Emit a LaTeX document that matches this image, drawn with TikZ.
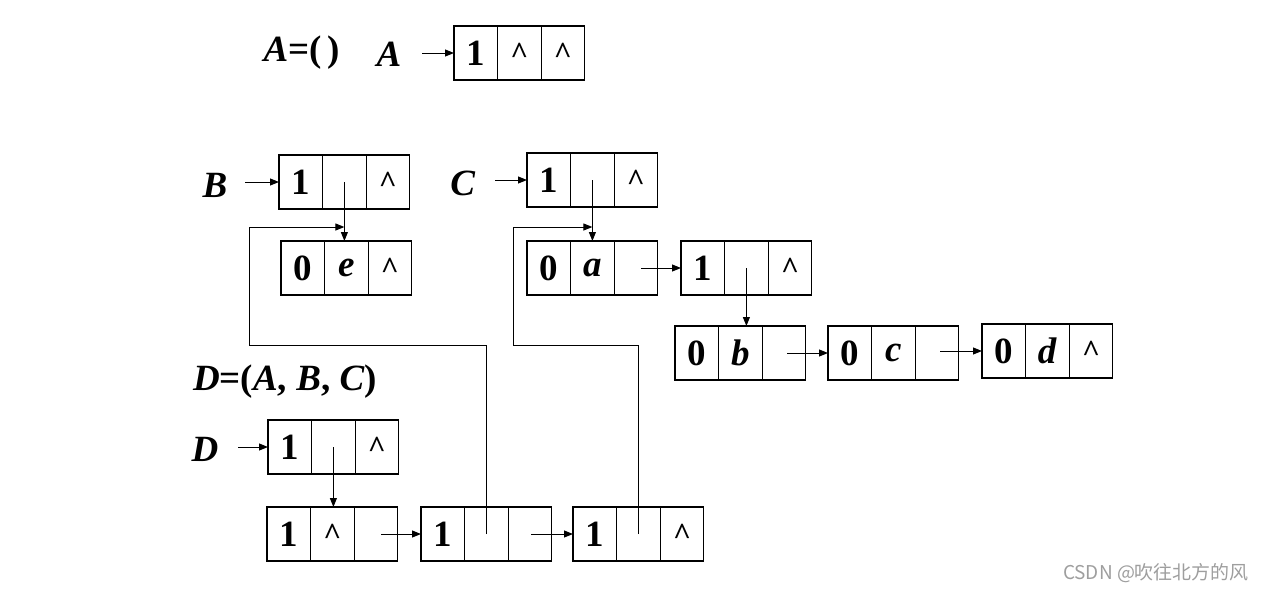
\documentclass[tikz,border=0pt]{standalone}
\usepackage{fontspec}
\setmainfont{Liberation Serif}
\newfontfamily\cjk{Noto Sans CJK SC}
\usetikzlibrary{arrows.meta}
\tikzset{
  cell/.style={draw, line width=1.3pt, minimum width=43.6pt, minimum height=54pt,
    inner sep=0pt, outer sep=0pt, font=\fontsize{37}{39}\selectfont\bfseries},
  lbl/.style={inner sep=0pt, font=\fontsize{37}{39}\selectfont\bfseries},
  ptr/.style={line width=1pt, -{Triangle[length=9pt,width=7pt]}},
  wire/.style={line width=1pt}
}
\newcommand{\car}{{\fontsize{31}{33}\selectfont\raisebox{-0.02em}{\textasciicircum}}}
\newcommand{\gnode}[6]{%
  \node[cell] (#1-1) at ({#2+21.8},{#3+27}) {#4};
  \node[cell] (#1-2) at ({#2+65.4},{#3+27}) {#5};
  \node[cell] (#1-3) at ({#2+109},{#3+27}) {#6};}
\begin{document}
\begin{tikzpicture}[x=1pt,y=-1pt]
\useasboundingbox (0,0) rectangle (1267,592);
% lists
\gnode{A}{454}{26}{1}{\car}{\car}
\gnode{B}{279}{155}{1}{}{\car}
\gnode{E}{281}{241}{0}{\textit{e}}{\car}
\gnode{C}{527}{153}{1}{}{\car}
\gnode{Ca}{527}{241}{0}{\textit{a}}{}
\gnode{Ct}{681}{241}{1}{}{\car}
\gnode{Cb}{675}{326}{0}{\textit{b}}{}
\gnode{Cc}{828}{326}{0}{\textit{c}}{}
\gnode{Cd}{982}{324}{0}{\textit{d}}{\car}
\gnode{D}{268}{420}{1}{}{\car}
\gnode{Da}{267}{507}{1}{\car}{}
\gnode{Db}{421}{507}{1}{}{}
\gnode{Dc}{573}{507}{1}{}{\car}
% labels
\node[lbl] (tA) at (302,53) {\textit{A}=(\,)};
\node[lbl] (lA) at (389,54) {\textit{A}};
\node[lbl] (lB) at (215,185) {\textit{B}};
\node[lbl] (lC) at (463,183) {\textit{C}};
\node[lbl] (tD) at (285,382) {\textit{D}=(\textit{A}, \textit{B}, \textit{C})};
\node[lbl] (lD) at (205,449) {\textit{D}};
% label arrows
\coordinate (sA) at (422,53);
\coordinate (sB) at (245,182);
\coordinate (sC) at (495,180);
\coordinate (sD) at (238,447);
\draw[ptr] (sA) -- (A-1.west);
\draw[ptr] (sB) -- (B-1.west);
\draw[ptr] (sC) -- (C-1.west);
\draw[ptr] (sD) -- (D-1.west);
% sublist pointers
\draw[ptr] (B-2.center) -- (B-2.center |- E-2.north);
\draw[ptr] (C-2.center) -- (C-2.center |- Ca-2.north);
\draw[ptr] (Ct-2.center) -- (Ct-2.center |- Cb-2.north);
\draw[ptr] (D-2.center) -- (D-2.center |- Da-2.north);
% next pointers
\draw[ptr] ([xshift=5pt]Ca-3.center) -- (Ct-1.west);
\draw[ptr] ([xshift=3pt]Cb-3.center) -- (Cc-1.west);
\draw[ptr] ([xshift=3pt]Cc-3.center |- Cd-1.west) -- (Cd-1.west);
\draw[ptr] ([xshift=5pt]Da-3.center) -- (Db-1.west);
\draw[ptr] ([xshift=1pt]Db-3.center) -- (Dc-1.west);
% shared sublist pointers
\coordinate (p1) at (249,345);
\coordinate (p2) at (249,227);
\coordinate (q1) at (513,345);
\coordinate (q2) at (513,227);
\draw[wire] (Db-2.center) |- (p1) -- (p2);
\draw[ptr] (p2) -- (p2 -| B-2.center);
\draw[wire] (Dc-2.center) |- (q1) -- (q2);
\draw[ptr] (q2) -- (q2 -| C-2.center);
% watermark
\node[inner sep=0pt, text=black!38, font=\cjk\fontsize{19}{21}\selectfont] (wm) at (1156,573) {CSDN @吹往北方的风};
\end{tikzpicture}
\end{document}
